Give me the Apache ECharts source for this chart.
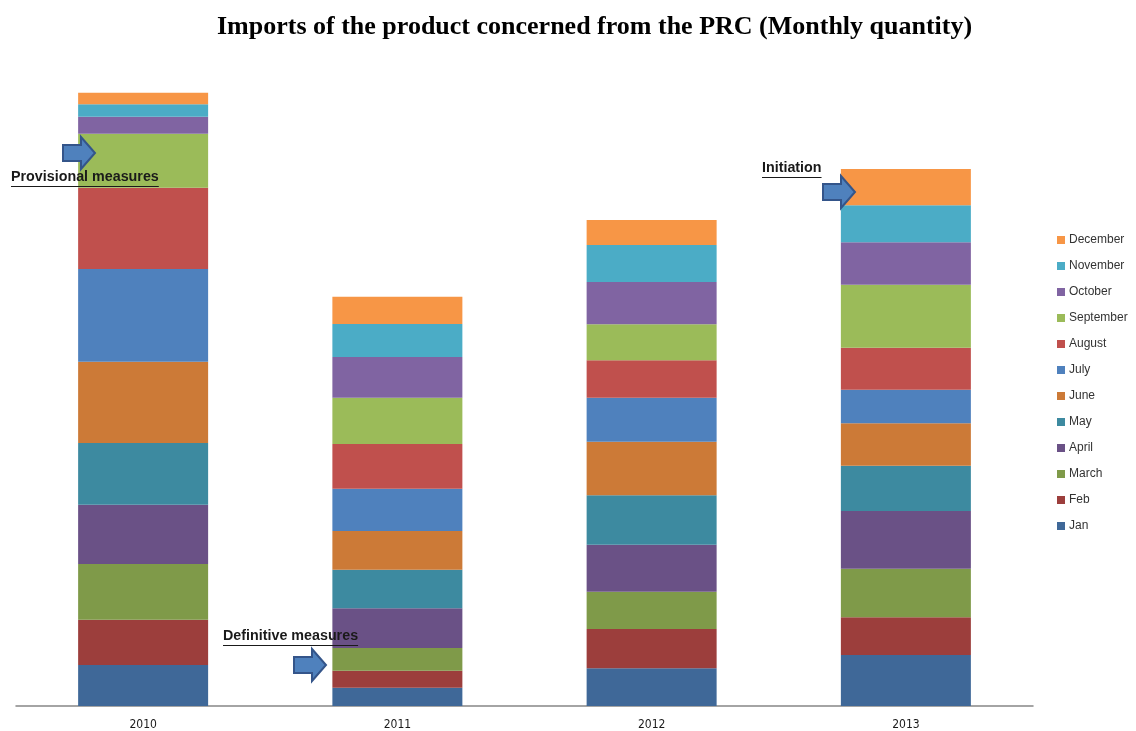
<!DOCTYPE html>
<html>
<head>
<meta charset="utf-8">
<script src="https://cdn.jsdelivr.net/npm/echarts@6/dist/echarts.min.js"></script>
<style>html,body{margin:0;padding:0;background:#fff}#c{width:1136px;height:731px}</style>
</head>
<body>
<div id="c"></div>
<script>
const years = ['2010', '2011', '2012', '2013'];
const months = ['Jan', 'Feb', 'March', 'April', 'May', 'June', 'July', 'August', 'September', 'October', 'November', 'December'];
const colors = ['#3F6898', '#9C3E3C', '#7F9A49', '#6A5186', '#3D8AA0', '#CC7A37', '#4F81BD', '#C0504D', '#9BBB59', '#8064A2', '#4BACC6', '#F79646'];
// values by month, one entry per year (2010, 2011, 2012, 2013), in relative quantity units
const jan = [41.0, 18.3, 37.7, 51.0];
const feb = [45.3, 17.0, 39.3, 37.7];
const mar = [55.7, 22.7, 37.3, 48.6];
const apr = [59.3, 39.7, 47.0, 57.7];
const may = [61.7, 38.6, 49.4, 45.3];
const jun = [81.3, 38.7, 53.6, 42.4];
const jul = [92.7, 42.3, 44.0, 33.6];
const aug = [81.3, 44.7, 37.4, 42.0];
const sep = [54.0, 46.3, 36.0, 63.0];
const oct = [17.0, 40.7, 42.3, 42.4];
const nov = [12.4, 33.0, 37.0, 37.0];
const dec = [11.6, 27.3, 25.0, 36.3];
const monthData = [jan, feb, mar, apr, may, jun, jul, aug, sep, oct, nov, dec];
const legendOrder = months.slice().reverse();

const chart = echarts.init(document.getElementById('c'));

const annFont = 'bold 14.3px "Liberation Sans", Arial, sans-serif';
const measureCtx = document.createElement('canvas').getContext('2d');
measureCtx.font = annFont;

function arrow(x, cy) {
  return {
    type: 'polygon',
    shape: { points: [[x, cy - 8], [x + 18, cy - 8], [x + 18, cy - 16], [x + 32, cy], [x + 18, cy + 16], [x + 18, cy + 8], [x, cy + 8]] },
    style: { fill: '#4F81BD', stroke: '#34558A', lineWidth: 2 },
    z: 100
  };
}
function label(txt, x, cy) {
  const w = measureCtx.measureText(txt).width;
  return [
    { type: 'text', left: x, top: cy - 8, z: 100,
      style: { text: txt, fill: '#1a1a1a', font: annFont } },
    { type: 'line', z: 100, shape: { x1: x, y1: cy + 8.5, x2: x + w, y2: cy + 8.5 }, style: { stroke: '#1a1a1a', lineWidth: 1 } }
  ];
}

const option = {
  animation: false,
  backgroundColor: '#ffffff',
  title: {
    text: 'Imports of the product concerned from the PRC (Monthly quantity)',
    left: 212, top: 9,
    textStyle: { fontFamily: '"Liberation Serif", serif', fontWeight: 'bold', fontSize: 26, color: '#000' }
  },
  legend: {
    data: legendOrder,
    orient: 'vertical',
    left: 1052, top: 228,
    itemWidth: 8, itemHeight: 8, itemGap: 12,
    icon: 'rect',
    textStyle: { fontFamily: '"Liberation Sans", Arial, sans-serif', fontSize: 12, color: '#333', lineHeight: 14, padding: [0, 0, 0, -1] }
  },
  grid: { left: 16, right: 103, top: 80, bottom: 25 },
  xAxis: {
    type: 'category', data: years,
    axisLine: { lineStyle: { color: '#868686', width: 1.5 } },
    axisTick: { show: false },
    axisLabel: { margin: 13, fontSize: 12, color: '#1a1a1a', fontFamily: '"DejaVu Sans Condensed", "Liberation Sans Narrow", sans-serif' }
  },
  yAxis: {
    type: 'value', min: 0, max: 626,
    show: false, splitLine: { show: false }
  },
  series: months.map((m, i) => ({
    name: m, type: 'bar', stack: 'total', barWidth: 130,
    itemStyle: { color: colors[i] },
    data: monthData[i]
  })),
  color: colors,
  graphic: [
    arrow(63, 153), ...label('Provisional measures', 11, 178),
    arrow(294, 665), ...label('Definitive measures', 223, 637),
    arrow(823, 192), ...label('Initiation', 762, 169)
  ]
};
chart.setOption(option);
</script>
</body>
</html>
